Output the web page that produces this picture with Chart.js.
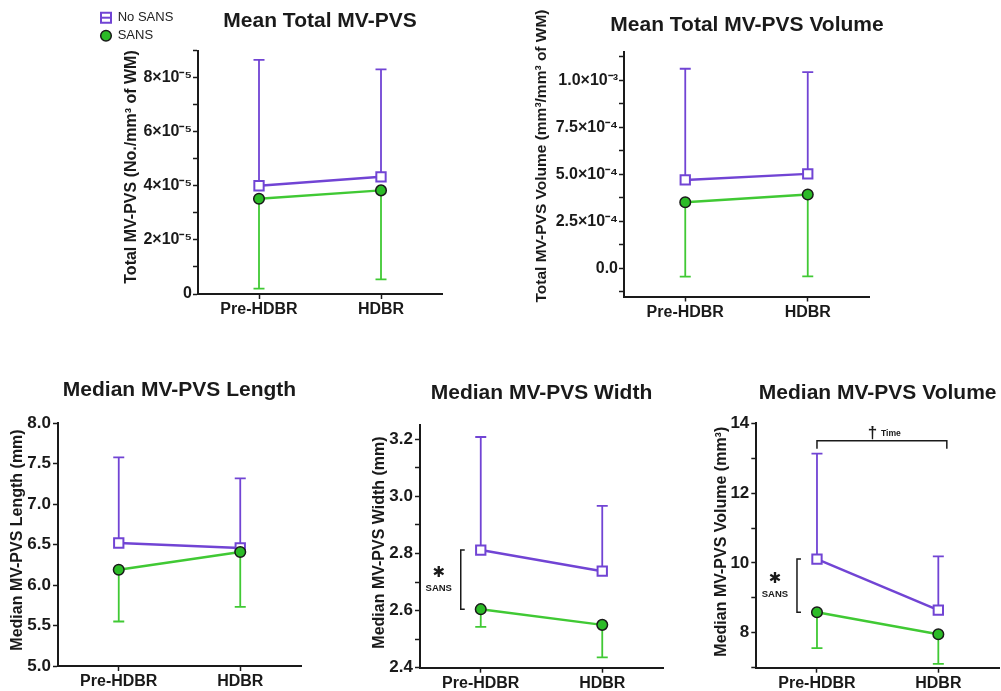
<!DOCTYPE html>
<html><head><meta charset="utf-8">
<script src="https://cdn.jsdelivr.net/npm/chart.js@4.4.1/dist/chart.umd.min.js"></script>
<style>
html,body{margin:0;padding:0;background:#fff;overflow:hidden;width:1001px;height:691px;position:relative;}
canvas{position:absolute;}
</style></head><body>
<canvas id="c1"></canvas><canvas id="c2"></canvas><canvas id="c3"></canvas><canvas id="c4"></canvas><canvas id="c5"></canvas>
<script>
// ---------- data ----------
const categories = ['Pre-HDBR', 'HDBR'];
const seriesNames = ['No SANS', 'SANS'];

const p1NoSans = [4.00e-5, 4.33e-5];
const p1NoSansUpper = [8.65e-5, 8.30e-5];
const p1Sans = [3.52e-5, 3.83e-5];
const p1SansLower = [0.20e-5, 0.54e-5];
const p1Ticks = [0, 1e-5, 2e-5, 3e-5, 4e-5, 5e-5, 6e-5, 7e-5, 8e-5, 9e-5];
const p1Labels = ['0', '', '2×10⁻⁵', '', '4×10⁻⁵', '', '6×10⁻⁵', '', '8×10⁻⁵', ''];

const p2NoSans = [4.70e-4, 5.02e-4];
const p2NoSansUpper = [1.061e-3, 1.043e-3];
const p2Sans = [3.51e-4, 3.92e-4];
const p2SansLower = [-0.44e-4, -0.43e-4];
const p2Ticks = [-1.25e-4, 0, 1.25e-4, 2.5e-4, 3.75e-4, 5e-4, 6.25e-4, 7.5e-4, 8.75e-4, 1e-3, 1.125e-3];
const p2Labels = ['', '0.0', '', '2.5×10⁻⁴', '', '5.0×10⁻⁴', '', '7.5×10⁻⁴', '', '1.0×10⁻³', ''];

const p3NoSans = [6.52, 6.46];
const p3NoSansUpper = [7.58, 7.32];
const p3Sans = [6.19, 6.41];
const p3SansLower = [5.55, 5.73];
const p3Ticks = [5, 5.5, 6, 6.5, 7, 7.5, 8];
const p3Labels = ['5.0', '5.5', '6.0', '6.5', '7.0', '7.5', '8.0'];

const p4NoSans = [2.812, 2.738];
const p4NoSansUpper = [3.208, 2.967];
const p4Sans = [2.605, 2.550];
const p4SansLower = [2.543, 2.436];
const p4Ticks = [2.4, 2.5, 2.6, 2.7, 2.8, 2.9, 3.0, 3.1, 3.2];
const p4Labels = ['2.4', '', '2.6', '', '2.8', '', '3.0', '', '3.2'];

const p5NoSans = [10.11, 8.65];
const p5NoSansUpper = [13.13, 10.19];
const p5Sans = [8.59, 7.96];
const p5SansLower = [7.56, 7.11];
const p5Ticks = [7, 8, 9, 10, 11, 12, 13, 14];
const p5Labels = ['', '8', '', '10', '', '12', '', '14'];

// ---------- style ----------
const FONT = "'Liberation Sans', Arial, Helvetica, sans-serif";
const PURPLE = '#7144d4';
const GREEN = '#40c934';
const GREEN_FILL = '#2cbb27';
const INK = '#1a1a1a';
const TITLE_SIZE = 21;

// ---------- plugins ----------
const errorBarPlugin = {
  id: 'errorBars',
  beforeDatasetsDraw(chart) {
    const ctx = chart.ctx, xs = chart.scales.x, ys = chart.scales.y;
    chart.data.datasets.forEach(ds => {
      if (!ds.errorEnds) return;
      ctx.save();
      ctx.strokeStyle = ds.borderColor;
      ctx.lineWidth = 1.8;
      ds.data.forEach((v, i) => {
        const x = xs.getPixelForValue(i);
        const y0 = ys.getPixelForValue(v);
        const y1 = ys.getPixelForValue(ds.errorEnds[i]);
        ctx.beginPath();
        ctx.moveTo(x, y0); ctx.lineTo(x, y1);
        ctx.moveTo(x - 5.5, y1); ctx.lineTo(x + 5.5, y1);
        ctx.stroke();
      });
      ctx.restore();
    });
  }
};

const yTitlePlugin = {
  id: 'yTitle',
  afterDraw(chart, args, opts) {
    if (!opts || !opts.text) return;
    const ctx = chart.ctx;
    ctx.save();
    ctx.translate(opts.x, opts.y);
    ctx.rotate(-Math.PI / 2);
    ctx.font = 'bold ' + opts.size + 'px ' + FONT;
    ctx.fillStyle = INK;
    ctx.textAlign = 'center';
    ctx.textBaseline = 'middle';
    ctx.fillText(opts.text, 0, 0);
    ctx.restore();
  }
};

const annotPlugin = {
  id: 'annot',
  afterDatasetsDraw(chart, args, opts) {
    if (!opts) return;
    const ctx = chart.ctx, xs = chart.scales.x, ys = chart.scales.y;
    const ds = chart.data.datasets;
    ctx.save();
    ctx.strokeStyle = INK;
    ctx.fillStyle = INK;
    ctx.lineWidth = 1.5;
    if (opts.sansBracket) {
      const x = xs.getPixelForValue(0) - 20;
      const yTop = ys.getPixelForValue(ds[1].data[0]);
      const yBot = ys.getPixelForValue(ds[0].data[0]);
      ctx.beginPath();
      ctx.moveTo(x + 4, yTop); ctx.lineTo(x, yTop); ctx.lineTo(x, yBot); ctx.lineTo(x + 4, yBot);
      ctx.stroke();
      const mid = (yTop + yBot) / 2;
      ctx.textAlign = 'center'; ctx.textBaseline = 'middle';
      ctx.font = 'bold 15px ' + "'DejaVu Sans', sans-serif";
      ctx.fillText('✱', x - 22, mid - 6.5);
      ctx.font = 'bold 9.5px ' + FONT;
      ctx.fillText('SANS', x - 22, mid + 8.5);
    }
    if (opts.timeBracket) {
      const xl = xs.getPixelForValue(0);
      const xr = xs.getPixelForValue(1) + 8.5;
      const y = ys.getPixelForValue(opts.timeBracket.value);
      ctx.beginPath();
      ctx.moveTo(xl, y + 8); ctx.lineTo(xl, y); ctx.lineTo(xr, y); ctx.lineTo(xr, y + 8);
      ctx.stroke();
      const mid = (xl + xr) / 2;
      ctx.textBaseline = 'middle';
      ctx.textAlign = 'center';
      ctx.font = 'bold 17px ' + FONT;
      ctx.fillText('†', mid - 9.5, y - 7);
      ctx.textAlign = 'left';
      ctx.font = 'bold 8.6px ' + FONT;
      ctx.fillText('Time', mid - 1, y - 7.5);
    }
    ctx.restore();
  }
};

const legendPlugin = {
  id: 'customLegend',
  afterDraw(chart, args, opts) {
    if (!opts || !opts.show) return;
    const ctx = chart.ctx;
    const ds = chart.data.datasets;
    const noS = ds[1], s = ds[0];
    ctx.save();
    let cx = opts.x, cy = opts.y;
    ctx.lineWidth = 2;
    ctx.strokeStyle = noS.borderColor;
    ctx.fillStyle = '#fff';
    ctx.beginPath(); ctx.rect(cx - 5, cy - 5, 10, 10); ctx.fill(); ctx.stroke();
    ctx.beginPath(); ctx.moveTo(cx - 5, cy); ctx.lineTo(cx + 5, cy); ctx.stroke();
    ctx.fillStyle = '#222';
    ctx.font = '13px ' + FONT;
    ctx.textAlign = 'left'; ctx.textBaseline = 'middle';
    ctx.fillText(noS.label, cx + 11.7, cy);
    cy = opts.y + opts.gap;
    ctx.beginPath(); ctx.arc(cx, cy, 5.3, 0, Math.PI * 2);
    ctx.fillStyle = s.pointBackgroundColor; ctx.fill();
    ctx.lineWidth = 1.5; ctx.strokeStyle = INK; ctx.stroke();
    ctx.fillStyle = '#222';
    ctx.fillText(s.label, cx + 11.7, cy);
    ctx.restore();
  }
};

// ---------- panels ----------
const panels = [
  { id: 'c1', title: 'Mean Total MV-PVS', yTitle: 'Total MV-PVS (No./mm³ of WM)', yTitleSize: 16, yTitlePos: [131.7, 167],
    noSans: p1NoSans, noSansUpper: p1NoSansUpper, sans: p1Sans, sansLower: p1SansLower,
    ticks: p1Ticks, labels: p1Labels, min: 0, max: 9e-5, tickSize: 16, tickPad: 1,
    box: { l: 0, t: 0, w: 470, h: 345 }, plot: { x0: 198, y0: 50.5, x1: 442, y1: 294 }, titleCy: 21.7, titleFull: false,
    legend: { show: true, x: 106, y: 17.7, gap: 18 } },
  { id: 'c2', title: 'Mean Total MV-PVS Volume', yTitle: 'Total MV-PVS Volume (mm³/mm³ of WM)', yTitleSize: 15.5, yTitlePos: [541.7, 156],
    noSans: p2NoSans, noSansUpper: p2NoSansUpper, sans: p2Sans, sansLower: p2SansLower,
    ticks: p2Ticks, labels: p2Labels, min: -1.5e-4, max: 1.15e-3, tickSize: 16, tickPad: 1,
    box: { l: 493, t: 0, w: 508, h: 345 }, plot: { x0: 624, y0: 52, x1: 869, y1: 296.5 }, titleCy: 25, titleFull: true },
  { id: 'c3', title: 'Median MV-PVS Length', yTitle: 'Median MV-PVS Length (mm)', yTitleSize: 16, yTitlePos: [18, 540],
    noSans: p3NoSans, noSansUpper: p3NoSansUpper, sans: p3Sans, sansLower: p3SansLower,
    ticks: p3Ticks, labels: p3Labels, min: 5, max: 8, tickSize: 17, tickPad: 2,
    box: { l: 0, t: 350, w: 325, h: 341 }, plot: { x0: 58, y0: 423.3, x1: 301, y1: 666 }, titleCy: 390, titleFull: false },
  { id: 'c4', title: 'Median MV-PVS Width', yTitle: 'Median MV-PVS Width (mm)', yTitleSize: 16, yTitlePos: [380, 542.5],
    noSans: p4NoSans, noSansUpper: p4NoSansUpper, sans: p4Sans, sansLower: p4SansLower,
    ticks: p4Ticks, labels: p4Labels, min: 2.4, max: 3.25, tickSize: 17, tickPad: 2,
    box: { l: 330, t: 350, w: 355, h: 341 }, plot: { x0: 420, y0: 425, x1: 663, y1: 667.7 }, titleCy: 393, titleFull: false,
    annot: { sansBracket: true } },
  { id: 'c5', title: 'Median MV-PVS Volume', yTitle: 'Median MV-PVS Volume (mm³)', yTitleSize: 16, yTitlePos: [721.7, 541.7],
    noSans: p5NoSans, noSansUpper: p5NoSansUpper, sans: p5Sans, sansLower: p5SansLower,
    ticks: p5Ticks, labels: p5Labels, min: 7, max: 14, tickSize: 17, tickPad: 2,
    box: { l: 690, t: 350, w: 335, h: 341 }, plot: { x0: 756.3, y0: 423.3, x1: 999, y1: 667.7 }, titleCy: 393, titleFull: false,
    annot: { sansBracket: true, timeBracket: { value: 13.5 } } }
];

function makePanel(p) {
  const cv = document.getElementById(p.id);
  cv.width = p.box.w; cv.height = p.box.h;
  cv.style.left = p.box.l + 'px'; cv.style.top = p.box.t + 'px';
  const yW = p.plot.x0 - p.box.l;
  const rW = p.box.l + p.box.w - p.plot.x1;
  const tH = p.plot.y0 - p.box.t;
  const xH = p.box.t + p.box.h - p.plot.y1;
  const lh = TITLE_SIZE * 1.2;
  const tPadTop = p.titleCy - p.box.t - lh / 2;
  const tPadBottom = tH - tPadTop - lh;
  const tickVals = p.ticks, tickLabels = p.labels;

  new Chart(cv, {
    type: 'line',
    data: {
      labels: categories,
      datasets: [
        { label: seriesNames[1], data: p.sans, errorEnds: p.sansLower, order: 0,
          borderColor: GREEN, backgroundColor: GREEN, borderWidth: 2.5, tension: 0, fill: false,
          pointStyle: 'circle', pointRadius: 5.3, pointHoverRadius: 5.3,
          pointBackgroundColor: GREEN_FILL, pointBorderColor: INK, pointBorderWidth: 1.5 },
        { label: seriesNames[0], data: p.noSans, errorEnds: p.noSansUpper, order: 1,
          borderColor: PURPLE, backgroundColor: PURPLE, borderWidth: 2.5, tension: 0, fill: false,
          pointStyle: 'rect', pointRadius: 6.6, pointHoverRadius: 6.6,
          pointBackgroundColor: '#ffffff', pointBorderColor: PURPLE, pointBorderWidth: 2 }
      ]
    },
    options: {
      responsive: false,
      animation: false,
      devicePixelRatio: 1,
      layout: { padding: 0 },
      events: [],
      plugins: {
        legend: { display: false },
        tooltip: { enabled: false },
        title: {
          display: true, text: p.title, color: INK, fullSize: p.titleFull,
          font: { family: FONT, size: TITLE_SIZE, weight: 'bold', lineHeight: 1.2 },
          padding: { top: tPadTop, bottom: tPadBottom }
        },
        yTitle: { text: p.yTitle, size: p.yTitleSize, x: p.yTitlePos[0] - p.box.l, y: p.yTitlePos[1] - p.box.t },
        annot: p.annot || null,
        customLegend: p.legend || null
      },
      scales: {
        x: {
          type: 'category', offset: true,
          grid: { display: true, drawOnChartArea: false, drawTicks: true, tickLength: 5, tickColor: INK, tickWidth: 1.5, offset: false },
          border: { display: true, color: INK, width: 2 },
          ticks: { color: INK, font: { family: FONT, size: 16, weight: 'bold' }, padding: 1, autoSkip: false, maxRotation: 0 },
          afterFit(s) { s.height = xH; }
        },
        y: {
          type: 'linear', position: 'left', min: p.min, max: p.max,
          afterBuildTicks(s) { s.ticks = tickVals.map(v => ({ value: v })); },
          grid: { display: true, drawOnChartArea: false, drawTicks: true, tickLength: 5, tickColor: INK, tickWidth: 1.5 },
          border: { display: true, color: INK, width: 2 },
          ticks: { color: INK, font: { family: FONT, size: p.tickSize, weight: 'bold' }, padding: p.tickPad, autoSkip: false,
                   callback: (v, i) => tickLabels[i] },
          afterFit(s) { s.width = yW; }
        },
        yR: {
          type: 'linear', position: 'right', display: true,
          grid: { display: false }, border: { display: false }, ticks: { display: false },
          afterFit(s) { s.width = rW; }
        }
      }
    },
    plugins: [errorBarPlugin, yTitlePlugin, annotPlugin, legendPlugin]
  });
}

panels.forEach(makePanel);
</script>
</body></html>
